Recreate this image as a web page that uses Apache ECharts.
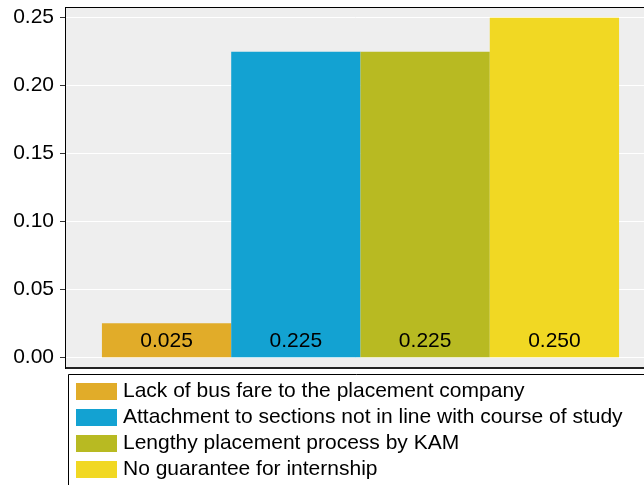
<!DOCTYPE html>
<html><head><meta charset="utf-8">
<script src="https://cdn.jsdelivr.net/npm/echarts@6/dist/echarts.min.js"></script>
<style>html,body{margin:0;padding:0;background:#fff}#c{width:644px;height:485px}</style>
</head><body><div id="c"></div>
<script>
const categories = [''];
const seriesNames = [
  'Lack of bus fare to the placement company',
  'Attachment to sections not in line with course of study',
  'Lengthy placement process by KAM',
  'No guarantee for internship'
];
const seriesValues = [0.025, 0.225, 0.225, 0.250];
const colors = ['#E1AC29', '#13A2D2', '#B8BA22', '#F1D823'];
const yTicks = [0, 0.05, 0.10, 0.15, 0.20, 0.25];

const FONT = 'Liberation Sans, Arial, sans-serif';
const FS = 21;
const chart = echarts.init(document.getElementById('c'), null, {renderer: 'canvas'});
const series = seriesNames.map((n, i) => ({
  name: n,
  type: 'bar',
  data: [seriesValues[i]],
  itemStyle: {color: colors[i]},
  barGap: '0%',
  barCategoryGap: '12.2%',
  label: {
    show: true, position: 'insideBottom', distance: 6,
    formatter: p => p.value.toFixed(3),
    color: '#000', fontSize: FS, fontFamily: FONT
  }
}));
chart.setOption({
  animation: false,
  textStyle: {fontFamily: FONT},
  graphic: [
    {type: 'rect', z: -10, shape: {x: 66, y: 7, width: 620, height: 361},
     style: {fill: '#EEEEEE', stroke: null}},
    {type: 'line', z: 10, shape: {x1: 66, y1: 7.5, x2: 644, y2: 7.5}, style: {stroke: '#000', lineWidth: 1}},
    {type: 'line', z: 10, shape: {x1: 66, y1: 368, x2: 644, y2: 368}, style: {stroke: '#222', lineWidth: 2}},
    {type: 'line', z: 10, shape: {x1: 65.5, y1: 7, x2: 65.5, y2: 369}, style: {stroke: '#000', lineWidth: 1}},
    {type: 'rect', z: 10, shape: {x: 68.5, y: 374.5, width: 600, height: 200},
     style: {fill: null, stroke: '#000', lineWidth: 1}}
  ],
  grid: {left: 66, top: 17.7, width: 589, height: 339.6, containLabel: false, outerBoundsMode: 'none'},
  legend: {
    orient: 'vertical', left: 76, top: 381, padding: 0,
    itemWidth: 41, itemHeight: 17, itemGap: 5,
    icon: 'rect', height: 200,
    textStyle: {fontSize: FS, color: '#000', fontFamily: FONT, padding: [0,0,0,1]},
    data: seriesNames
  },
  xAxis: {
    type: 'category', data: categories,
    axisLine: {show: false}, axisTick: {show: false}, axisLabel: {show: false},
    splitLine: {show: false}
  },
  yAxis: {
    type: 'value', min: 0, max: 0.25, interval: 0.05,
    axisLine: {show: false},
    axisTick: {show: true, length: 6, lineStyle: {color: '#333'}},
    axisLabel: {
      margin: 12, fontSize: FS, color: '#000', fontFamily: FONT,
      formatter: v => { const t = yTicks.find(x => Math.abs(x - v) < 1e-9); return (t === undefined ? v : t).toFixed(2); }
    },
    splitLine: {show: true, lineStyle: {color: '#FFFFFF', width: 1}}
  },
  series: series
});
</script></body></html>
